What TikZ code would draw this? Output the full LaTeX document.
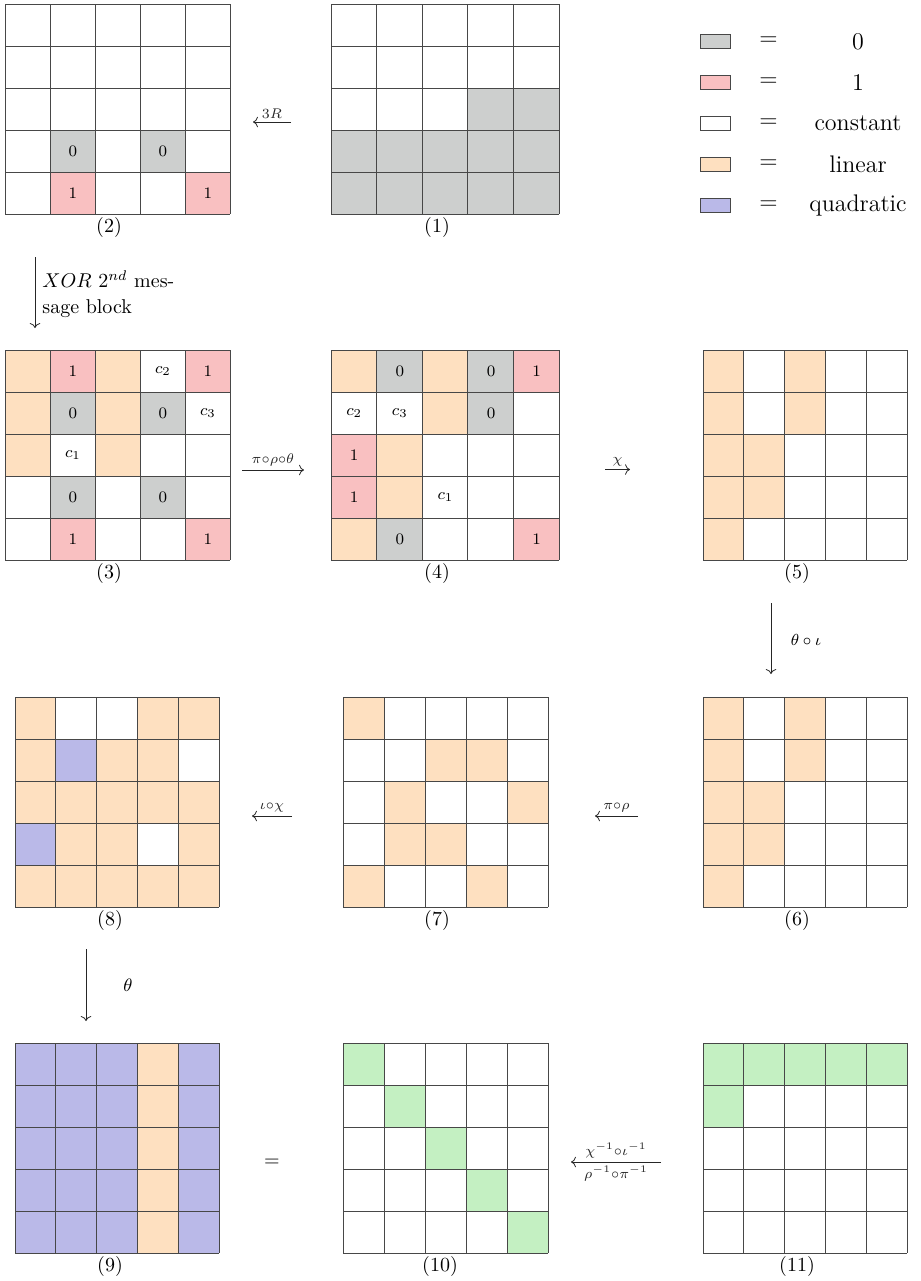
\documentclass[tikz,border=0pt]{standalone}
\usetikzlibrary{arrows.meta}
\definecolor{kW}{RGB}{255,255,255}
\definecolor{kG}{RGB}{205,207,206}
\definecolor{kP}{RGB}{249,192,193}
\definecolor{kL}{RGB}{254,224,192}
\definecolor{kQ}{RGB}{186,185,232}
\definecolor{kN}{RGB}{196,240,194}
\tikzset{
  cellbox/.style={inner sep=0pt, anchor=north west, font=\footnotesize},
  gridline/.style={draw=black!72, line width=0.45pt},
  legbox/.style={draw=black!72, line width=0.45pt, minimum width=15pt, minimum height=7pt, inner sep=0pt},
  flow/.style={->, black!85, line width=0.4pt},
  steplabel/.style={inner sep=1.5pt},
  caption/.style={anchor=north, inner sep=0pt},
}
\newcommand\kgrid[6]{%
  \foreach \row [count=\r from 0] in {#6} {
    \foreach \s/\t [count=\c from 0] in \row {
      \node[cellbox, fill=k\s, minimum width=#4*0.5pt, minimum height=#5*0.5pt]
        (g#1-\r-\c) at ({#2+\c*#4},{#3+\r*#5}) {\t};
    }
  }
  \foreach \i in {0,...,5} {
    \draw[gridline] ({#2+\i*#4},#3) -- ++(0,{5*#5});
    \draw[gridline] (#2,{#3+\i*#5}) -- ++({5*#4},0);
  }
}
\begin{document}
\begin{tikzpicture}[x=0.5pt,y=-0.5pt]
\useasboundingbox (0,0) rectangle (921,1281);

% grid (1)
\kgrid{1}{331}{4}{45.6}{42}{{W/,W/,W/,W/,W/},{W/,W/,W/,W/,W/},{W/,W/,W/,G/,G/},{G/,G/,G/,G/,G/},{G/,G/,G/,G/,G/}}
% grid (2)
\kgrid{2}{5}{4}{45}{42}{{W/,W/,W/,W/,W/},{W/,W/,W/,W/,W/},{W/,W/,W/,W/,W/},{W/,G/0,W/,G/0,W/},{W/,P/1,W/,W/,P/1}}
% grid (3)
\kgrid{3}{5}{350}{45}{42}{{L/,P/1,L/,W/$c_2$,P/1},{L/,G/0,L/,G/0,W/$c_3$},{L/,W/$c_1$,L/,W/,W/},{W/,G/0,W/,G/0,W/},{W/,P/1,W/,W/,P/1}}
% grid (4)
\kgrid{4}{331}{350}{45.6}{42}{{L/,G/0,L/,G/0,P/1},{W/$c_2$,W/$c_3$,L/,G/0,W/},{P/1,L/,W/,W/,W/},{P/1,L/,W/$c_1$,W/,W/},{L/,G/0,W/,W/,P/1}}
% grid (5)
\kgrid{5}{703}{350}{40.8}{42}{{L/,W/,L/,W/,W/},{L/,W/,L/,W/,W/},{L/,L/,W/,W/,W/},{L/,L/,W/,W/,W/},{L/,W/,W/,W/,W/}}
% grid (6)
\kgrid{6}{703}{697}{40.8}{42}{{L/,W/,L/,W/,W/},{L/,W/,L/,W/,W/},{L/,L/,W/,W/,W/},{L/,L/,W/,W/,W/},{L/,W/,W/,W/,W/}}
% grid (7)
\kgrid{7}{343}{697}{41}{42}{{L/,W/,W/,W/,W/},{W/,W/,L/,L/,W/},{W/,L/,W/,W/,L/},{W/,L/,L/,W/,W/},{L/,W/,W/,L/,W/}}
% grid (8)
\kgrid{8}{15}{697}{40.8}{42}{{L/,W/,W/,L/,L/},{L/,Q/,L/,L/,W/},{L/,L/,L/,L/,L/},{Q/,L/,L/,W/,L/},{L/,L/,L/,L/,L/}}
% grid (9)
\kgrid{9}{15}{1043}{40.8}{42}{{Q/,Q/,Q/,L/,Q/},{Q/,Q/,Q/,L/,Q/},{Q/,Q/,Q/,L/,Q/},{Q/,Q/,Q/,L/,Q/},{Q/,Q/,Q/,L/,Q/}}
% grid (10)
\kgrid{10}{343}{1043}{41}{42}{{N/,W/,W/,W/,W/},{W/,N/,W/,W/,W/},{W/,W/,N/,W/,W/},{W/,W/,W/,N/,W/},{W/,W/,W/,W/,N/}}
% grid (11)
\kgrid{11}{703}{1043}{40.8}{42}{{N/,N/,N/,N/,N/},{N/,W/,W/,W/,W/},{W/,W/,W/,W/,W/},{W/,W/,W/,W/,W/},{W/,W/,W/,W/,W/}}

% captions
\node[caption] (cap1) at (437,217) {(1)};
\node[caption] (cap2) at (109,217) {(2)};
\node[caption] (cap3) at (109,563) {(3)};
\node[caption] (cap4) at (437,563) {(4)};
\node[caption] (cap5) at (797,563) {(5)};
\node[caption] (cap6) at (797,910) {(6)};
\node[caption] (cap7) at (437,910) {(7)};
\node[caption] (cap8) at (110,910) {(8)};
\node[caption] (cap9) at (110,1256) {(9)};
\node[caption] (cap10) at (440,1256) {(10)};
\node[caption] (cap11) at (797,1256) {(11)};

% legend
\foreach \k/\txt [count=\i from 0] in {G/$0$,P/$1$,W/constant,L/linear,Q/quadratic} {
  \node[legbox, fill=k\k] (leg\i) at (715,{41.3+\i*41}) {};
  \node[font=\large] (legeq\i) at (768.5,{41.3+\i*41}) {$=$};
  \node[font=\large] (legtxt\i) at (858,{41.3+\i*41}) {\txt};
}

% arrows
\coordinate (a1s) at (291,122); \coordinate (a1e) at (253,122);
\draw[flow] (a1s) -- node[steplabel, above] {$\scriptstyle 3R$} (a1e);

\coordinate (a2s) at (35,257); \coordinate (a2e) at (35,328);
\draw[flow] (a2s) -- (a2e);
\node[anchor=north west, align=left, inner sep=0pt] (xortxt) at (42,270) {$XOR$ $2^{nd}$ mes-\\[1pt]sage block};

\coordinate (a3s) at (242,470); \coordinate (a3e) at (304,470);
\draw[flow] (a3s) -- node[steplabel, above] {$\scriptstyle\pi\circ\rho\circ\theta$} (a3e);

\coordinate (a4s) at (605,469.5); \coordinate (a4e) at (630,469.5);
\draw[flow] (a4s) -- node[steplabel, above] {$\scriptstyle\chi$} (a4e);

\coordinate (a5s) at (771,603); \coordinate (a5e) at (771,674);
\draw[flow] (a5s) -- (a5e);
\node[font=\footnotesize] (l5) at (806,640) {$\theta\circ\iota$};

\coordinate (a6s) at (638,816); \coordinate (a6e) at (595,816);
\draw[flow] (a6s) -- node[steplabel, above] {$\scriptstyle\pi\circ\rho$} (a6e);

\coordinate (a7s) at (292,816); \coordinate (a7e) at (252,816);
\draw[flow] (a7s) -- node[steplabel, above] {$\scriptstyle\iota\circ\chi$} (a7e);

\coordinate (a8s) at (86,949); \coordinate (a8e) at (86,1021);
\draw[flow] (a8s) -- (a8e);
\node[font=\small] (l8) at (128,985) {$\theta$};

\node (eq) at (272,1163) {$=$};

\coordinate (a9s) at (661,1162); \coordinate (a9e) at (571,1162);
\draw[flow] (a9s) -- node[steplabel, above] {$\scriptstyle\chi^{-1}\circ\iota^{-1}$} node[steplabel, below] {$\scriptstyle\rho^{-1}\circ\pi^{-1}$} (a9e);
\end{tikzpicture}
\end{document}
